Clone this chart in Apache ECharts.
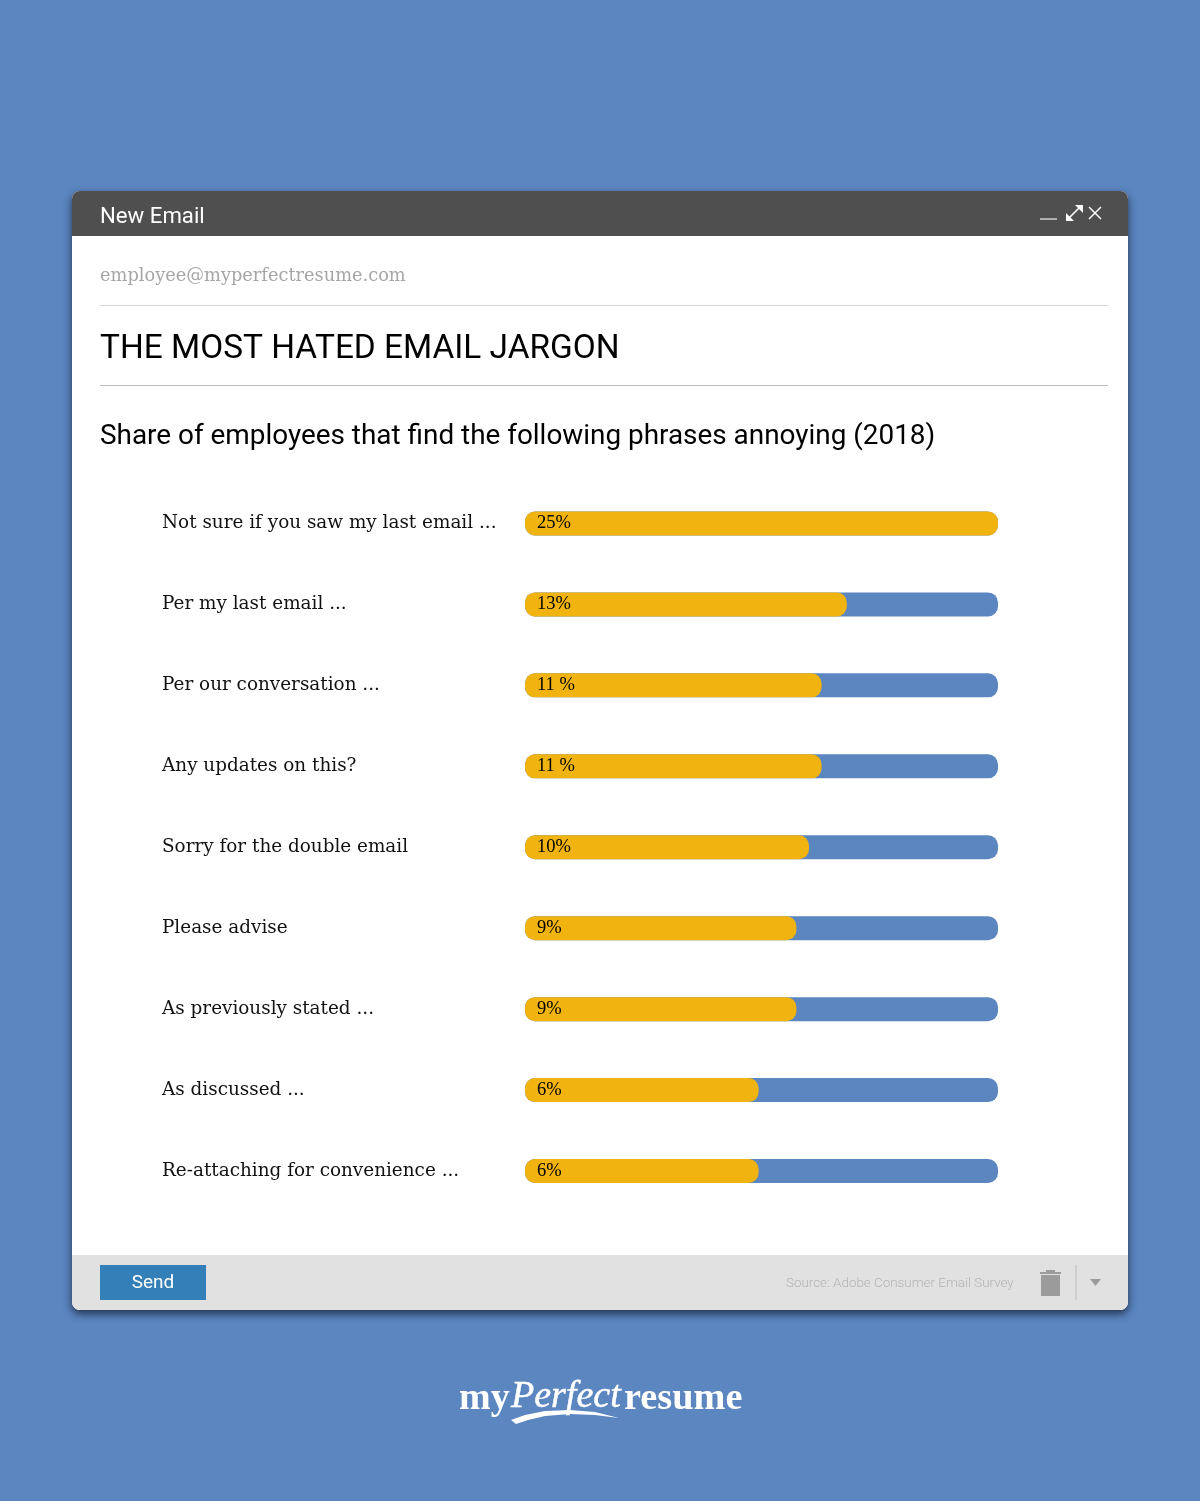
<!DOCTYPE html>
<html><head><meta charset="utf-8">
<style>html,body{margin:0;padding:0;background:#5b86c0}#c{width:1200px;height:1501px}</style>
<script src="https://cdn.jsdelivr.net/npm/echarts@6/dist/echarts.min.js"></script>
</head><body><div id="c"></div>
<script>
const categories = ['Not sure if you saw my last email ...','Per my last email ...','Per our conversation ...','Any updates on this?','Sorry for the double email','Please advise','As previously stated ...','As discussed ...','Re-attaching for convenience ...'];
const shares = [25,13,11,11,10,9,9,6,6];
const shareLabels = ['25%','13%','11 %','11 %','10%','9%','9%','6%','6%'];
const chartTitle = 'THE MOST HATED EMAIL JARGON';
const chartSubtitle = 'Share of employees that find the following phrases annoying (2018)';
const sourceNote = 'Source: Adobe Consumer Email Survey';
// The reference's bars do not start at 0%: every bar carries the same head start.
const barHeadStart = 12.54;

const BLUE='#5b86c0', GOLD='#f0b310';
const txt=(x,y,text,font,fill,extra)=>({type:'text',x,y,z:5,style:Object.assign({text,font,fill,textVerticalAlign:'middle'},extra||{})});
const line=(x1,y1,x2,y2,stroke,w)=>({type:'line',z:5,shape:{x1,y1,x2,y2},style:{stroke,lineWidth:w||1}});
const chrome=[
 {type:'rect',z:1,shape:{x:72,y:191,width:1056,height:1119,r:8},style:{fill:'#fff',shadowBlur:9,shadowColor:'rgba(20,30,50,.8)',shadowOffsetY:4,shadowOffsetX:0}},
 {type:'rect',z:2,shape:{x:72,y:191,width:1056,height:45,r:[8,8,0,0]},style:{fill:'#4f4f4f'}},
 {type:'rect',z:2,shape:{x:72,y:1255,width:1056,height:55,r:[0,0,8,8]},style:{fill:'#e1e1e1'}},
 txt(100,217,'New Email','22.2px Roboto','#fff'),
 line(1040,219,1057,219,'#d8d8d8',1.4),
 line(1068,219,1081,206,'#fff',1.6),
 {type:'polygon',z:5,shape:{points:[[1075,205],[1083,205],[1083,213]]},style:{fill:'#fff'}},
 {type:'polygon',z:5,shape:{points:[[1066,213],[1066,221],[1074,221]]},style:{fill:'#fff'}},
 line(1089,207,1101,219,'#fff',1.4),
 line(1101,207,1089,219,'#fff',1.4),
 txt(100,276,'employee@myperfectresume.com','17.8px "DejaVu Serif"','#a6a6a6'),
 line(100,305.5,1108,305.5,'#d4d4d4',1.2),
 line(100,385.5,1108,385.5,'#bdbdbd',1),
 {type:'rect',z:5,shape:{x:100,y:1265,width:106,height:35},style:{fill:'#337fb7'}},
 txt(153,1283,'Send','19px Roboto','#fff',{textAlign:'center'}),
 {type:'rect',z:5,shape:{x:1041,y:1275,width:19,height:21},style:{fill:'#9b9b9b'}},
 {type:'rect',z:5,shape:{x:1040,y:1272,width:21,height:2},style:{fill:'#9b9b9b'}},
 {type:'rect',z:5,shape:{x:1046,y:1270,width:9,height:2},style:{fill:'#9b9b9b'}},
 line(1076,1265,1076,1300,'#bdbdbd',1),
 {type:'polygon',z:5,shape:{points:[[1090,1279],[1101,1279],[1095.5,1286]]},style:{fill:'#9b9b9b'}},
 txt(459,1399,'my','bold 38px "Liberation Serif"','#fff'),
 txt(511,1397,'Perfect','italic 38px "Liberation Serif"','#fff',{stroke:'#fff',lineWidth:0.5}),
 txt(624,1399,'resume','bold 38.3px "Liberation Serif"','#fff'),
 {type:'polygon',z:5,shape:{points:[[511,1420],[525,1415],[545,1411],[570,1410],[595,1412],[619,1418],[595,1415],[570,1414],[545,1416],[528,1420],[516,1424]]},style:{fill:'#fff'}}
];
const chart=echarts.init(document.getElementById('c'),null,{renderer:'canvas'});
chart.setOption({
 animation:false,
 backgroundColor:BLUE,
 title:[
  {text:chartTitle,left:100,top:333,padding:0,textStyle:{fontFamily:'Roboto',fontWeight:400,fontSize:33.4,color:'#000'},z:6},
  {text:chartSubtitle,left:100,top:423,padding:0,textStyle:{fontFamily:'Roboto',fontWeight:400,fontSize:27.9,color:'#000'},z:6},
  {text:sourceNote,left:786,top:1277,padding:0,textStyle:{fontFamily:'Roboto',fontWeight:300,fontSize:13.4,color:'#b4b4b4'},z:6}
 ],
 grid:{left:525,top:483,width:473,height:728.5},
 xAxis:{type:'value',min:0,max:25+barHeadStart,show:false},
 yAxis:{type:'category',z:4,inverse:true,data:categories,axisLine:{show:false},axisTick:{show:false},
  axisLabel:{margin:363,align:'left',fontFamily:'DejaVu Serif',fontSize:18.4,color:'#111'}},
 series:[
  {type:'bar',name:'Head start',stack:'s',barWidth:24,z:3,showBackground:true,
   backgroundStyle:{color:BLUE,borderRadius:10},
   itemStyle:{color:GOLD,borderRadius:[10,0,0,10]},
   data:shares.map(()=>barHeadStart),
   label:{show:true,position:'insideLeft',distance:12,fontFamily:'Liberation Serif',fontSize:18.5,color:'#000',
    formatter:p=>shareLabels[p.dataIndex]}},
  {type:'bar',name:'Share of employees (%)',stack:'s',barWidth:24,z:3,
   itemStyle:{color:GOLD,borderRadius:[0,10,10,0]},data:shares}
 ],
 graphic:{elements:chrome}
});
</script></body></html>
